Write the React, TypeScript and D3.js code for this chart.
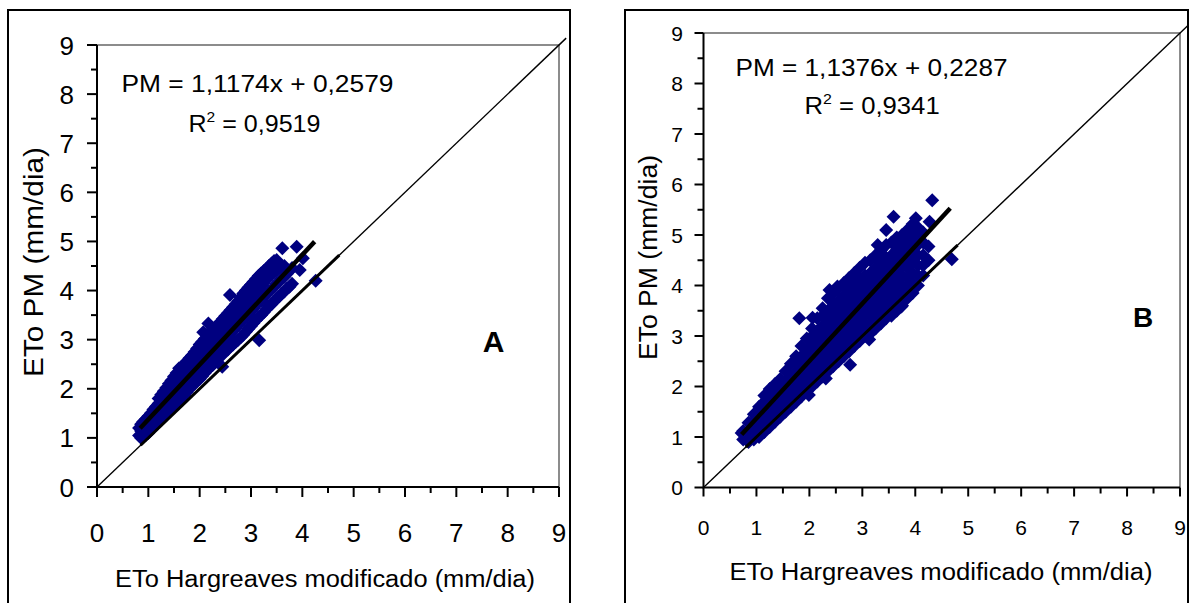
import React from "react";
import * as d3 from "d3";

// ---------- data ----------
const majorTicks = [0, 1, 2, 3, 4, 5, 6, 7, 8, 9];
const tickLabels = ["0", "1", "2", "3", "4", "5", "6", "7", "8", "9"];
const minorTicks = [0.5, 1.5, 2.5, 3.5, 4.5, 5.5, 6.5, 7.5, 8.5];
const xTitle = "ETo Hargreaves modificado (mm/dia)";
const yTitle = "ETo PM (mm/dia)";
const equationA = "PM = 1,1174x + 0,2579";
const r2ValueA = " = 0,9519";
const equationB = "PM = 1,1376x + 0,2287";
const r2ValueB = " = 0,9341";
const panelLetters = ["A", "B"];
const regressionA = [1.1174, 0.2579];
const regressionB = [1.1376, 0.2287];
const regressionSpanA = [0.84, 4.24];
const regressionSpanB = [0.72, 4.66];
const identitySpan = [0, 9.14];
const identityBoldA = [0.85, 4.72];
const identityBoldB = [0.8, 4.8];

const pointsA: [number, number][] = [
  [0.82,1.05],[0.82,1.2],
  [0.86,1.0],[0.86,1.14],[0.86,1.28],
  [0.9,1.02],[0.9,1.18],[0.9,1.33],
  [0.95,1.06],[0.95,1.22],[0.95,1.38],
  [1.0,1.1],[1.0,1.27],[1.0,1.44],
  [1.05,1.16],[1.05,1.33],[1.05,1.5],
  [1.1,1.22],[1.1,1.4],[1.1,1.58],
  [1.15,1.28],[1.15,1.46],[1.15,1.64],
  [1.2,1.34],[1.2,1.52],[1.2,1.7],[1.2,1.8],
  [1.25,1.4],[1.25,1.58],[1.25,1.76],[1.25,1.88],
  [1.3,1.45],[1.3,1.63],[1.3,1.8],[1.3,1.95],
  [1.35,1.5],[1.35,1.68],[1.35,1.86],[1.35,2.02],
  [1.4,1.56],[1.4,1.74],[1.4,1.92],[1.4,2.1],
  [1.45,1.6],[1.45,1.8],[1.45,1.98],[1.45,2.17],
  [1.5,1.65],[1.5,1.85],[1.5,2.05],[1.5,2.25],
  [1.55,1.7],[1.55,1.9],[1.55,2.1],[1.55,2.32],
  [1.6,1.75],[1.6,1.96],[1.6,2.18],[1.6,2.42],
  [1.65,1.8],[1.65,2.02],[1.65,2.24],[1.65,2.45],
  [1.7,1.87],[1.7,2.08],[1.7,2.3],[1.7,2.5],
  [1.75,1.93],[1.75,2.14],[1.75,2.36],[1.75,2.56],
  [1.8,2.0],[1.8,2.2],[1.8,2.42],[1.8,2.62],
  [1.85,2.05],[1.85,2.26],[1.85,2.48],[1.85,2.68],
  [1.9,2.1],[1.9,2.32],[1.9,2.54],[1.9,2.75],
  [1.95,2.16],[1.95,2.38],[1.95,2.6],[1.95,2.82],
  [2.0,2.2],[2.0,2.43],[2.0,2.66],[2.0,2.9],
  [2.05,2.26],[2.05,2.5],[2.05,2.72],[2.05,2.96],[2.07,3.15],
  [2.1,2.32],[2.1,2.55],[2.1,2.78],[2.1,3.02],
  [2.15,2.38],[2.15,2.6],[2.15,2.84],[2.15,3.1],[2.17,3.33],
  [2.2,2.44],[2.2,2.66],[2.2,2.9],[2.2,3.15],
  [2.25,2.48],[2.25,2.72],[2.25,2.96],[2.25,3.2],
  [2.3,2.54],[2.3,2.78],[2.3,3.02],[2.3,3.25],
  [2.35,2.6],[2.35,2.84],[2.35,3.08],[2.35,3.3],
  [2.4,2.66],[2.4,2.9],[2.4,3.14],[2.4,3.36],[2.44,2.45],
  [2.45,2.7],[2.45,2.96],[2.45,3.2],[2.45,3.42],
  [2.5,2.76],[2.5,3.02],[2.5,3.26],[2.5,3.48],
  [2.55,2.8],[2.55,3.06],[2.55,3.32],[2.55,3.54],[2.59,3.91],
  [2.6,2.86],[2.6,3.12],[2.6,3.38],[2.6,3.6],
  [2.65,2.9],[2.65,3.18],[2.65,3.44],[2.65,3.66],
  [2.7,2.95],[2.7,3.24],[2.7,3.5],[2.7,3.72],
  [2.75,3.0],[2.75,3.3],[2.75,3.56],[2.75,3.78],
  [2.8,3.05],[2.8,3.35],[2.8,3.62],[2.8,3.86],
  [2.85,3.1],[2.85,3.4],[2.85,3.68],[2.85,3.94],
  [2.9,3.16],[2.9,3.46],[2.9,3.74],[2.9,4.0],
  [2.95,3.22],[2.95,3.52],[2.95,3.8],[2.95,4.06],
  [3.0,3.28],[3.0,3.58],[3.0,3.86],[3.0,4.12],
  [3.05,3.34],[3.05,3.64],[3.05,3.92],[3.05,4.18],
  [3.1,3.4],[3.1,3.7],[3.1,3.98],[3.1,4.24],
  [3.15,3.46],[3.15,3.76],[3.15,4.04],[3.15,4.3],[3.16,2.99],
  [3.2,3.5],[3.2,3.8],[3.2,4.1],[3.2,4.35],
  [3.25,3.56],[3.25,3.86],[3.25,4.16],[3.25,4.4],
  [3.3,3.62],[3.3,3.92],[3.3,4.22],[3.3,4.44],
  [3.35,3.68],[3.35,3.98],[3.35,4.28],[3.35,4.5],
  [3.4,3.72],[3.4,4.02],[3.4,4.32],[3.4,4.55],
  [3.45,3.78],[3.45,4.08],[3.45,4.38],[3.45,4.6],
  [3.5,3.84],[3.5,4.14],[3.5,4.42],[3.5,4.62],
  [3.55,3.88],[3.55,4.18],[3.55,4.46],
  [3.6,3.94],[3.6,4.24],[3.6,4.5],[3.61,4.86],
  [3.65,3.98],[3.65,4.28],[3.65,4.5],
  [3.7,4.04],[3.7,4.34],
  [3.75,4.08],[3.75,4.4],
  [3.8,4.14],[3.8,4.46],
  [3.89,4.89],[3.95,4.42],[4.01,4.66],[4.26,4.2],
];

const pointsB: [number, number][] = [
  [0.72,1.08],
  [0.75,0.95],[0.75,1.12],
  [0.85,0.9],[0.85,1.1],[0.85,1.28],
  [0.95,0.95],[0.95,1.15],[0.95,1.32],[0.95,1.45],
  [1.05,1.0],[1.05,1.2],[1.05,1.4],[1.05,1.6],
  [1.15,1.1],[1.15,1.3],[1.15,1.5],[1.15,1.7],[1.15,1.82],
  [1.25,1.2],[1.25,1.4],[1.25,1.6],[1.25,1.8],[1.25,1.95],
  [1.35,1.3],[1.35,1.5],[1.35,1.7],[1.35,1.9],[1.35,2.05],
  [1.45,1.4],[1.45,1.6],[1.45,1.8],[1.45,2.0],[1.45,2.15],
  [1.55,1.5],[1.55,1.7],[1.55,1.9],[1.55,2.1],[1.55,2.3],
  [1.65,1.6],[1.65,1.8],[1.65,2.0],[1.65,2.2],[1.65,2.45],
  [1.75,1.7],[1.75,1.9],[1.75,2.1],[1.75,2.3],[1.75,2.5],[1.75,2.6],
  [1.81,3.35],
  [1.85,1.8],[1.85,2.0],[1.85,2.2],[1.85,2.4],[1.85,2.6],[1.85,2.8],
  [1.95,1.9],[1.95,2.1],[1.95,2.3],[1.95,2.5],[1.95,2.7],[1.95,2.95],
  [1.99,1.83],
  [2.05,2.0],[2.05,2.2],[2.05,2.4],[2.05,2.6],[2.05,2.8],[2.05,3.0],[2.05,3.15],
  [2.06,3.36],
  [2.15,2.1],[2.15,2.3],[2.15,2.5],[2.15,2.7],[2.15,2.9],[2.15,3.1],[2.15,3.35],
  [2.25,2.2],[2.25,2.4],[2.25,2.6],[2.25,2.8],[2.25,3.0],[2.25,3.2],[2.25,3.4],[2.25,3.55],
  [2.31,2.16],
  [2.35,2.3],[2.35,2.5],[2.35,2.7],[2.35,2.9],[2.35,3.1],[2.35,3.3],[2.35,3.5],[2.35,3.75],
  [2.38,3.91],
  [2.45,2.4],[2.45,2.6],[2.45,2.8],[2.45,3.0],[2.45,3.2],[2.45,3.4],[2.45,3.6],[2.45,3.85],
  [2.53,3.98],
  [2.55,2.5],[2.55,2.7],[2.55,2.9],[2.55,3.1],[2.55,3.3],[2.55,3.5],[2.55,3.7],[2.55,3.95],
  [2.65,2.6],[2.65,2.8],[2.65,3.0],[2.65,3.2],[2.65,3.4],[2.65,3.6],[2.65,3.8],[2.65,4.05],
  [2.75,2.7],[2.75,2.9],[2.75,3.1],[2.75,3.3],[2.75,3.5],[2.75,3.7],[2.75,3.9],[2.75,4.15],
  [2.77,2.43],
  [2.85,2.8],[2.85,3.0],[2.85,3.2],[2.85,3.4],[2.85,3.6],[2.85,3.8],[2.85,4.0],[2.85,4.25],
  [2.95,2.9],[2.95,3.1],[2.95,3.3],[2.95,3.5],[2.95,3.7],[2.95,3.9],[2.95,4.1],[2.95,4.35],
  [3.05,3.0],[3.05,3.2],[3.05,3.4],[3.05,3.6],[3.05,3.8],[3.05,4.0],[3.05,4.2],[3.05,4.45],
  [3.13,2.93],
  [3.15,3.05],[3.15,3.25],[3.15,3.45],[3.15,3.65],[3.15,3.85],[3.15,4.05],[3.15,4.25],[3.15,4.5],
  [3.25,3.15],[3.25,3.35],[3.25,3.55],[3.25,3.75],[3.25,3.95],[3.25,4.15],[3.25,4.35],[3.25,4.6],
  [3.29,4.8],
  [3.35,3.25],[3.35,3.45],[3.35,3.65],[3.35,3.85],[3.35,4.05],[3.35,4.25],[3.35,4.45],[3.35,4.7],
  [3.45,3.35],[3.45,3.55],[3.45,3.75],[3.45,3.95],[3.45,4.15],[3.45,4.35],[3.45,4.55],[3.45,4.8],[3.45,5.1],
  [3.55,3.4],[3.55,3.6],[3.55,3.8],[3.55,4.0],[3.55,4.2],[3.55,4.4],[3.55,4.6],[3.55,4.85],
  [3.59,5.36],
  [3.65,3.5],[3.65,3.7],[3.65,3.9],[3.65,4.1],[3.65,4.3],[3.65,4.5],[3.65,4.7],[3.65,4.95],
  [3.73,3.58],
  [3.75,3.6],[3.75,3.8],[3.75,4.0],[3.75,4.2],[3.75,4.4],[3.75,4.6],[3.75,4.8],[3.75,5.0],
  [3.85,3.75],[3.85,3.95],[3.85,4.15],[3.85,4.35],[3.85,4.55],[3.85,4.75],[3.85,4.95],[3.85,5.1],
  [3.95,3.85],[3.95,4.05],[3.95,4.25],[3.95,4.45],[3.95,4.65],[3.95,4.85],[3.95,5.05],[3.95,5.22],
  [4.01,5.33],
  [4.05,4.0],[4.05,4.2],[4.05,4.4],[4.05,4.6],[4.05,4.8],[4.05,5.0],[4.05,5.15],
  [4.15,4.2],[4.15,4.4],[4.15,4.6],[4.15,4.85],[4.15,5.05],
  [4.25,4.5],[4.25,4.77],[4.27,5.26],
  [4.32,5.69],
  [4.69,4.52],
];

// ---------- layout ----------
const FONT = "'Liberation Sans', Arial, Helvetica, sans-serif";
const NAVY = "#000080";

type Layout = {
  frame: [number, number, number];
  px: [number, number];
  py: [number, number];
  tickFont: number;
  yLabelRight: number;
  yLabelDy: number;
  xLabelBaseline: number;
  majorLen: number;
  minorLen: number;
  xTitle: { cx: number; y: number; size: number; len: number };
  yTitle: { x: number; cy: number; size: number; len: number };
  eq: { x: number; y: number; size: number; len: number };
  r2: { x: number; y: number; size: number; sx: number };
  letter: { cx: number; y: number; size: number };
};

const layoutA: Layout = {
  frame: [8, 10, 570],
  px: [97, 559],
  py: [487, 45],
  tickFont: 26,
  yLabelRight: 74,
  yLabelDy: 9.5,
  xLabelBaseline: 542,
  majorLen: 10,
  minorLen: 6,
  xTitle: { cx: 325, y: 587, size: 23, len: 420 },
  yTitle: { x: 43, cy: 262, size: 28, len: 230 },
  eq: { x: 121.5, y: 91.5, size: 23, len: 272 },
  r2: { x: 188.5, y: 131.5, size: 23, sx: 1.09 },
  letter: { cx: 493.5, y: 352, size: 30 },
};

const layoutB: Layout = {
  frame: [625, 10, 1188],
  px: [703.5, 1180],
  py: [487.5, 33],
  tickFont: 21,
  yLabelRight: 683,
  yLabelDy: 7.5,
  xLabelBaseline: 535,
  majorLen: 9,
  minorLen: 6,
  xTitle: { cx: 941, y: 580, size: 23, len: 423 },
  yTitle: { x: 657, cy: 257.5, size: 26, len: 205 },
  eq: { x: 735.5, y: 76, size: 24, len: 272 },
  r2: { x: 804.5, y: 114, size: 24, sx: 1.07 },
  letter: { cx: 1143, y: 327, size: 28 },
};

function Panel(props: {
  L: Layout;
  points: [number, number][];
  reg: number[];
  regSpan: number[];
  boldSpan: number[];
  equation: string;
  r2Value: string;
  letter: string;
}) {
  const { L, points, reg, regSpan, boldSpan, equation, r2Value, letter } = props;
  const x = d3.scaleLinear().domain([0, 9]).range(L.px);
  const y = d3.scaleLinear().domain([0, 9]).range(L.py);
  const line = d3
    .line<[number, number]>()
    .x((d) => x(d[0]))
    .y((d) => y(d[1]));
  const r = 7;
  const diamond = (d: [number, number]) => {
    const cx = x(d[0]);
    const cy = y(d[1]);
    return `M${cx},${cy - r}L${cx + r},${cy}L${cx},${cy + r}L${cx - r},${cy}Z`;
  };
  const [fl, ft, fr] = L.frame;
  const x0 = x(0), x9 = x(9), y0 = y(0), y9 = y(9);
  const regPts: [number, number][] = regSpan.map((v) => [v, reg[0] * v + reg[1]]);
  return (
    <g fontFamily={FONT}>
      <path d={`M${fl},640V${ft}H${fr}V640`} fill="none" stroke="#000" strokeWidth={2} />
      <path d={`M${x0},${y9}H${x9}V${y0}`} fill="none" stroke="#8c8c8c" strokeWidth={2} />
      {points.map((d, i) => (
        <path key={i} d={diamond(d)} fill={NAVY} />
      ))}
      <path d={line(identitySpan.map((v) => [v, v]) as [number, number][]) || ""} stroke="#000" strokeWidth={1.4} fill="none" />
      <path d={line(boldSpan.map((v) => [v, v]) as [number, number][]) || ""} stroke="#000" strokeWidth={3} fill="none" />
      <path d={line(regPts) || ""} stroke="#000" strokeWidth={4.5} fill="none" />
      <path d={`M${x0},${y9}V${y0}H${x9}`} fill="none" stroke="#000" strokeWidth={2} />
      {majorTicks.map((t) => (
        <g key={"ym" + t}>
          <line x1={x0 - L.majorLen} x2={x0} y1={y(t)} y2={y(t)} stroke="#000" strokeWidth={2} />
          <line x1={x(t)} x2={x(t)} y1={y0} y2={y0 + L.majorLen} stroke="#000" strokeWidth={2} />
        </g>
      ))}
      {minorTicks.map((t) => (
        <g key={"yn" + t}>
          <line x1={x0 - L.minorLen} x2={x0} y1={y(t)} y2={y(t)} stroke="#000" strokeWidth={2} />
          <line x1={x(t)} x2={x(t)} y1={y0} y2={y0 + L.minorLen} stroke="#000" strokeWidth={2} />
        </g>
      ))}
      {majorTicks.map((t, i) => (
        <text key={"yl" + t} x={L.yLabelRight} y={y(t) + L.yLabelDy} textAnchor="end" fontSize={L.tickFont} fill="#000">
          {tickLabels[i]}
        </text>
      ))}
      {majorTicks.map((t, i) => (
        <text key={"xl" + t} x={x(t)} y={L.xLabelBaseline} textAnchor="middle" fontSize={L.tickFont} fill="#000">
          {tickLabels[i]}
        </text>
      ))}
      <text
        x={L.xTitle.cx}
        y={L.xTitle.y}
        textAnchor="middle"
        fontSize={L.xTitle.size}
        textLength={L.xTitle.len}
        lengthAdjust="spacingAndGlyphs"
      >
        {xTitle}
      </text>
      <text
        transform={`translate(${L.yTitle.x},${L.yTitle.cy}) rotate(-90)`}
        textAnchor="middle"
        fontSize={L.yTitle.size}
        textLength={L.yTitle.len}
        lengthAdjust="spacingAndGlyphs"
      >
        {yTitle}
      </text>
      <text x={L.eq.x} y={L.eq.y} fontSize={L.eq.size} textLength={L.eq.len} lengthAdjust="spacingAndGlyphs">
        {equation}
      </text>
      <g transform={`translate(${L.r2.x},${L.r2.y}) scale(${L.r2.sx},1)`}>
        <text x={0} y={0} fontSize={L.r2.size}>
          R
          <tspan dy={-10} fontSize={L.r2.size * 0.62}>2</tspan>
          <tspan dy={10}>{r2Value}</tspan>
        </text>
      </g>
      <text x={L.letter.cx} y={L.letter.y} textAnchor="middle" fontSize={L.letter.size} fontWeight="bold">
        {letter}
      </text>
    </g>
  );
}

export default function App() {
  return (
    <svg
      width={1190}
      height={603}
      viewBox="0 0 1190 603"
      style={{ position: "absolute", left: 0, top: 0, background: "#fff" }}
    >
      <rect x={0} y={0} width={1190} height={603} fill="#fff" />
      <Panel
        L={layoutA}
        points={pointsA}
        reg={regressionA}
        regSpan={regressionSpanA}
        boldSpan={identityBoldA}
        equation={equationA}
        r2Value={r2ValueA}
        letter={panelLetters[0]}
      />
      <Panel
        L={layoutB}
        points={pointsB}
        reg={regressionB}
        regSpan={regressionSpanB}
        boldSpan={identityBoldB}
        equation={equationB}
        r2Value={r2ValueB}
        letter={panelLetters[1]}
      />
    </svg>
  );
}
